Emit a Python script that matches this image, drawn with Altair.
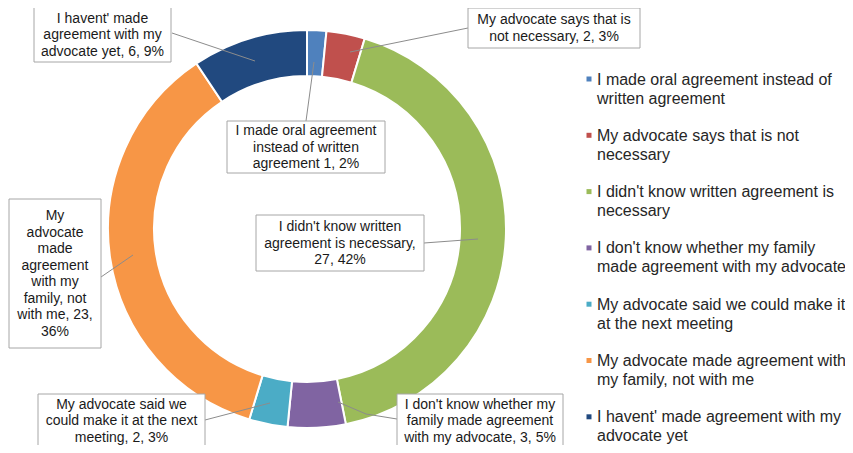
import altair as alt
import pandas as pd

# ---------------- data ----------------
categories = [
    "I made oral agreement instead of written agreement",
    "My advocate says that is not necessary",
    "I didn't know written agreement is necessary",
    "I don't know whether my family made agreement with my advocate",
    "My advocate said we could make it at the next meeting",
    "My advocate made agreement with my family, not with me",
    "I havent' made agreement with my advocate yet",
]
values = [1, 2, 27, 3, 2, 23, 6]

legend_labels = [
    "I made oral agreement instead of\nwritten agreement",
    "My advocate says that is not\nnecessary",
    "I didn't know written agreement is\nnecessary",
    "I don't know whether my family\nmade agreement with my advocate",
    "My advocate said we could make it\nat the next meeting",
    "My advocate made agreement with\nmy family, not with me",
    "I havent' made agreement with my\nadvocate yet",
]

data_labels = [
    "I made oral agreement\ninstead of written\nagreement 1, 2%",
    "My advocate says that is\nnot necessary, 2, 3%",
    "I didn't know written\nagreement is necessary,\n27, 42%",
    "I don't know whether my\nfamily made agreement\nwith my advocate, 3, 5%",
    "My advocate said we\ncould make it at the next\nmeeting, 2, 3%",
    "My\nadvocate\nmade\nagreement\nwith my\nfamily, not\nwith me, 23,\n36%",
    "I havent' made\nagreement with my\nadvocate yet, 6, 9%",
]

# ---------------- styles / layout ----------------
colors = ["#4F81BD", "#C0504D", "#9BBB59", "#8064A2", "#4BACC6", "#F79646", "#21497F"]

M = 8  # page margin
W, H = 837, 437
CX, CY = 307 - M, 229 - M
R_OUT, R_IN = 199, 153

LBL_FS, LBL_LH = 14, 16.5
LEG_FS, LEG_LH = 16, 19

# label boxes (x1, y1, x2, y2) in page pixels
label_boxes = [
    (227, 121, 385, 173),
    (468, 8, 640, 48),
    (256, 215, 424, 271),
    (397, 394, 563, 447),
    (38, 394, 205, 447),
    (9, 199, 101, 348),
    (34, 7, 171, 62),
]
# leader lines (list of points) in page pixels
leaders = [
    [(306, 121), (314, 62)],
    [(468, 28), (350, 52)],
    [(424, 243), (478, 239)],
    [(397, 419), (366, 414), (338, 402)],
    [(205, 420), (270, 403)],
    [(101, 277), (133, 255)],
    [(172, 33), (255, 61)],
]
legend_sym_x = 589
legend_text_x = 597
legend_y0 = 79
legend_step = 56.3

FONT = "Liberation Sans"

# ---------------- tables ----------------
slices = pd.DataFrame({"cat": categories, "value": values, "idx": list(range(len(values)))})

nlines = [s.count("\n") + 1 for s in data_labels]
boxes = pd.DataFrame({
    "x1": [b[0] - M for b in label_boxes],
    "y1": [b[1] - M for b in label_boxes],
    "x2": [b[2] - M for b in label_boxes],
    "y2": [b[3] - M for b in label_boxes],
    "xc": [(b[0] + b[2]) / 2 - M for b in label_boxes],
    "yt": [(b[1] + b[3]) / 2 - M - (n - 1) * LBL_LH / 2 - 6.5
           for b, n in zip(label_boxes, nlines)],
    "label": data_labels,
})

lead_rows = []
for i, pts in enumerate(leaders):
    for j, (px, py) in enumerate(pts):
        lead_rows.append({"id": i, "o": j, "x": px - M, "y": py - M})
lead = pd.DataFrame(lead_rows)

leg = pd.DataFrame({
    "cat": categories,
    "label": legend_labels,
    "sx": [legend_sym_x - M] * len(categories),
    "tx": [legend_text_x - M] * len(categories),
    "yc": [legend_y0 + i * legend_step - M for i in range(len(categories))],
    "yt": [legend_y0 + i * legend_step - M - 7.5 for i in range(len(categories))],
})

xs = alt.Scale(domain=[0, W], range=[0, W])
ys = alt.Scale(domain=[0, H], range=[0, H])
cs = alt.Scale(domain=categories, range=colors)

arc = alt.Chart(slices).mark_arc(
    innerRadius=R_IN, outerRadius=R_OUT, stroke="white", strokeWidth=2
).encode(
    theta=alt.Theta("value:Q", stack=True),
    color=alt.Color("cat:N", scale=cs, legend=None),
    order=alt.Order("idx:Q"),
    x=alt.value(CX),
    y=alt.value(CY),
)

lines = alt.Chart(lead).mark_line(color="#8C8C8C", strokeWidth=1).encode(
    x=alt.X("x:Q", scale=xs, axis=None),
    y=alt.Y("y:Q", scale=ys, axis=None),
    detail="id:N",
    order="o:Q",
)

rects = alt.Chart(boxes).mark_rect(fill="white", stroke="#A6A6A6", strokeWidth=1).encode(
    x=alt.X("x1:Q", scale=xs, axis=None),
    x2="x2:Q",
    y=alt.Y("y1:Q", scale=ys, axis=None),
    y2="y2:Q",
)

texts = alt.Chart(boxes).mark_text(
    lineBreak="\n", align="center", baseline="top",
    fontSize=LBL_FS, lineHeight=LBL_LH, font=FONT, color="#1A1A1A",
).encode(
    x=alt.X("xc:Q", scale=xs, axis=None),
    y=alt.Y("yt:Q", scale=ys, axis=None),
    text="label:N",
)

leg_sym = alt.Chart(leg).mark_square(size=25, opacity=1).encode(
    x=alt.X("sx:Q", scale=xs, axis=None),
    y=alt.Y("yc:Q", scale=ys, axis=None),
    color=alt.Color("cat:N", scale=cs, legend=None),
)

leg_txt = alt.Chart(leg).mark_text(
    lineBreak="\n", align="left", baseline="top",
    fontSize=LEG_FS, lineHeight=LEG_LH, font=FONT, color="#262626",
).encode(
    x=alt.X("tx:Q", scale=xs, axis=None),
    y=alt.Y("yt:Q", scale=ys, axis=None),
    text="label:N",
)

chart = alt.layer(arc, lines, rects, texts, leg_sym, leg_txt).properties(
    width=W, height=H,
    autosize=alt.AutoSizeParams(type="none"),
    padding=0,
    background="white",
).configure_view(stroke=None)

chart.save("out.html", embed_options={"renderer": "svg", "actions": False})
